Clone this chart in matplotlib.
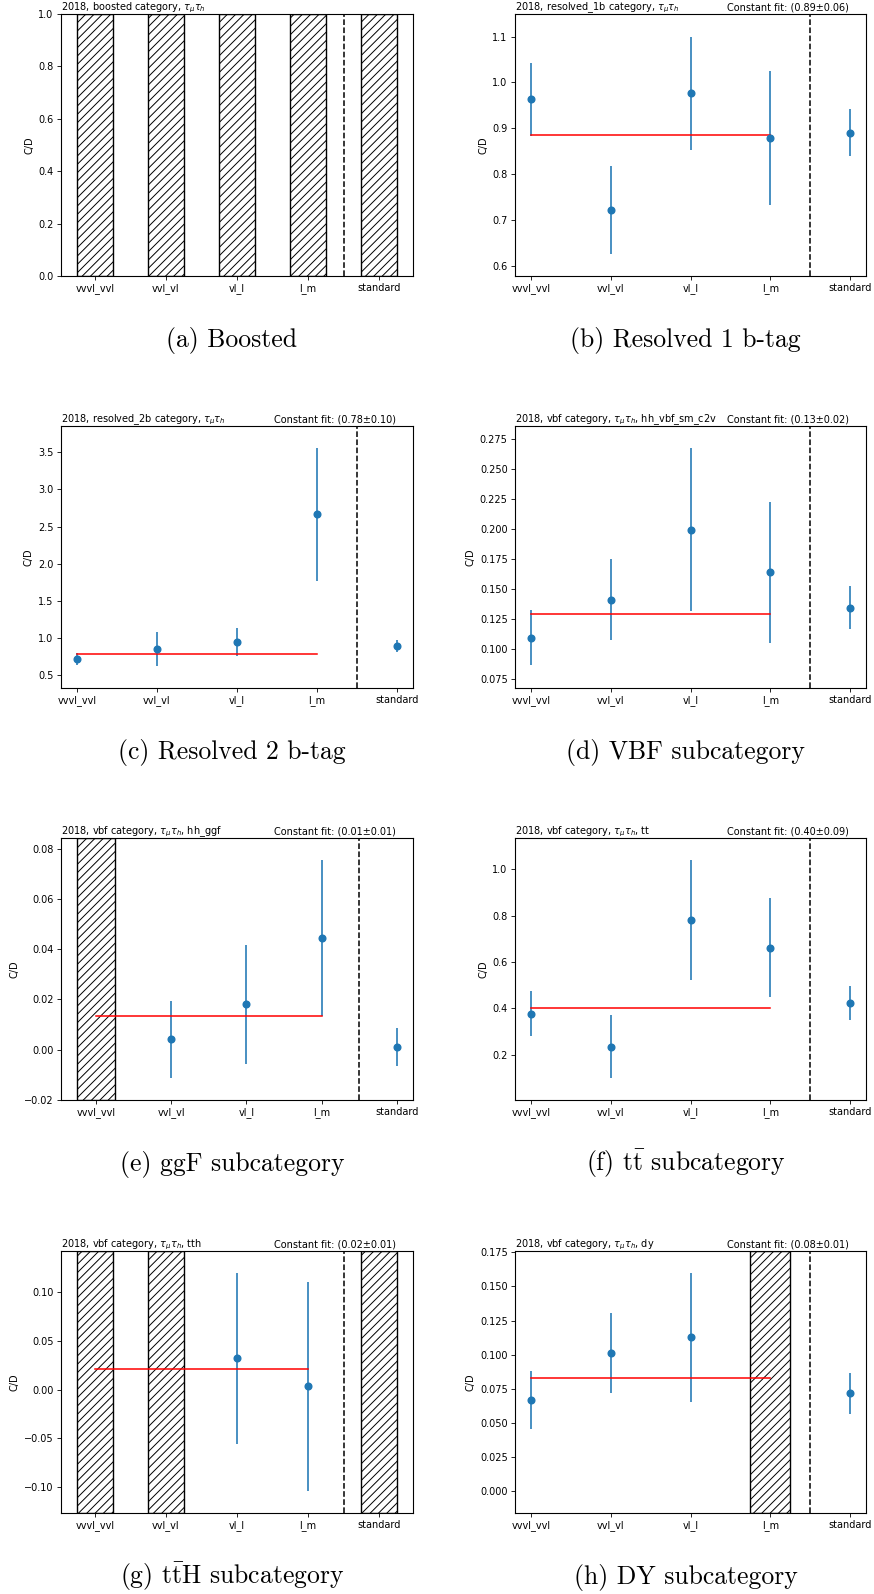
import numpy as np
import matplotlib
matplotlib.use("Agg")
import matplotlib.pyplot as plt

nan = np.nan

categories = ["vvvl_vvl", "vvl_vl", "vl_l", "l_m", "standard"]

# C/D ratio and its uncertainty per working point (nan = not available)
boosted_val = [nan, nan, nan, nan, nan]
boosted_err = [nan, nan, nan, nan, nan]

res1b_val = [0.963, 0.722, 0.977, 0.880, 0.891]
res1b_err = [0.080, 0.096, 0.123, 0.146, 0.052]

res2b_val = [0.724, 0.853, 0.952, 2.667, 0.889]
res2b_err = [0.079, 0.229, 0.186, 0.892, 0.080]

vbf_val = [0.1092, 0.1410, 0.1996, 0.1637, 0.1343]
vbf_err = [0.0232, 0.0338, 0.0680, 0.0590, 0.0180]

ggf_val = [nan, 0.0041, 0.0180, 0.0445, 0.0010]
ggf_err = [nan, 0.0154, 0.0236, 0.0311, 0.0077]

tt_val = [0.378, 0.236, 0.780, 0.661, 0.423]
tt_err = [0.0985, 0.136, 0.259, 0.2135, 0.0735]

tth_val = [nan, nan, 0.0324, 0.0033, nan]
tth_err = [nan, nan, 0.088, 0.107, nan]

dy_val = [0.0665, 0.1012, 0.1127, nan, 0.0716]
dy_err = [0.02125, 0.0293, 0.0474, nan, 0.0152]

# constant fit over the four working points (None = no fit)
fit_val = [None, 0.886, 0.782, 0.1287, 0.0136, 0.402, 0.0208, 0.0826]
fit_err = [None, 0.06, 0.10, 0.02, 0.01, 0.09, 0.01, 0.01]

titles = [
    r"2018, boosted category, $\tau_\mu\tau_h$",
    r"2018, resolved_1b category, $\tau_\mu\tau_h$",
    r"2018, resolved_2b category, $\tau_\mu\tau_h$",
    r"2018, vbf category, $\tau_\mu\tau_h$, hh_vbf_sm_c2v",
    r"2018, vbf category, $\tau_\mu\tau_h$, hh_ggf",
    r"2018, vbf category, $\tau_\mu\tau_h$, tt",
    r"2018, vbf category, $\tau_\mu\tau_h$, tth",
    r"2018, vbf category, $\tau_\mu\tau_h$, dy",
]

captions = [
    r"(a) Boosted",
    r"(b) Resolved 1 b-tag",
    r"(c) Resolved 2 b-tag",
    r"(d) VBF subcategory",
    r"(e) ggF subcategory",
    r"(f) t$\bar{\mathrm{t}}$ subcategory",
    r"(g) t$\bar{\mathrm{t}}$H subcategory",
    r"(h) DY subcategory",
]

values = [boosted_val, res1b_val, res2b_val, vbf_val, ggf_val, tt_val, tth_val, dy_val]
errors = [boosted_err, res1b_err, res2b_err, vbf_err, ggf_err, tt_err, tth_err, dy_err]

y_limits = [
    (0.0, 1.0),
    (0.579, 1.149),
    (0.329, 3.854),
    (0.0672, 0.2861),
    (-0.0201, 0.0844),
    (0.006, 1.1336),
    (-0.1268, 0.1425),
    (-0.016, 0.176),
]

plt.rcParams["hatch.linewidth"] = 0.7
plt.rcParams["axes.linewidth"] = 0.8
plt.rcParams["xtick.major.width"] = 0.6
plt.rcParams["ytick.major.width"] = 0.6
plt.rcParams["xtick.major.size"] = 2.8
plt.rcParams["ytick.major.size"] = 2.8

W, H = 874, 1594
fig = plt.figure(figsize=(W / 100, H / 100), dpi=100)

col_left = [61, 515]
col_width = [352, 351]
row_top = [14, 426, 838, 1251]
ax_height = 262

fs = 7.0
x = np.arange(len(categories))

for i in range(8):
    r, c = divmod(i, 2)
    left = col_left[c]
    top = row_top[r]
    ax = fig.add_axes([left / W, (H - top - ax_height) / H, col_width[c] / W, ax_height / H])

    vals = np.array(values[i], dtype=float)
    errs = np.array(errors[i], dtype=float)

    # hatched bands where no value is available
    for xi in x[np.isnan(vals)]:
        ax.axvspan(xi - 0.25, xi + 0.25, facecolor="none", edgecolor="black",
                   hatch="////", linewidth=1.0)

    if np.any(~np.isnan(vals)):
        ax.errorbar(x, vals, yerr=errs, fmt="o", color="#1f77b4",
                    markersize=4.8, elinewidth=1.15, capsize=0)

    if fit_val[i] is not None:
        ax.plot([x[0], x[-2]], [fit_val[i], fit_val[i]], color="red", linewidth=1.1)
        ax.annotate(f"Constant fit: ({fit_val[i]:.2f}\u00b1{fit_err[i]:.2f})",
                    xy=(0.952, 1.0), xycoords="axes fraction",
                    xytext=(0, 2.5), textcoords="offset points",
                    ha="right", va="baseline", fontsize=fs)

    ax.axvline(x[-1] - 0.5, color="black", linestyle="--", linewidth=1.1)

    ax.annotate(titles[i], xy=(0.0, 1.0), xycoords="axes fraction",
                xytext=(0, 2.5), textcoords="offset points",
                ha="left", va="baseline", fontsize=fs)

    ax.set_ylim(*y_limits[i])
    ax.set_xticks(x)
    ax.set_xticklabels(categories)
    ax.tick_params(labelsize=fs, pad=2.5)
    ax.set_ylabel("C/D", fontsize=fs, labelpad=3)

    cx = left + col_width[c] / 2 - 5
    fig.text(cx / W, (H - (top + ax_height + 71)) / H, captions[i],
             ha="center", va="baseline", fontsize=18.5,
             family="cmr10", math_fontfamily="cm")

fig.savefig("out.png", dpi=100)
